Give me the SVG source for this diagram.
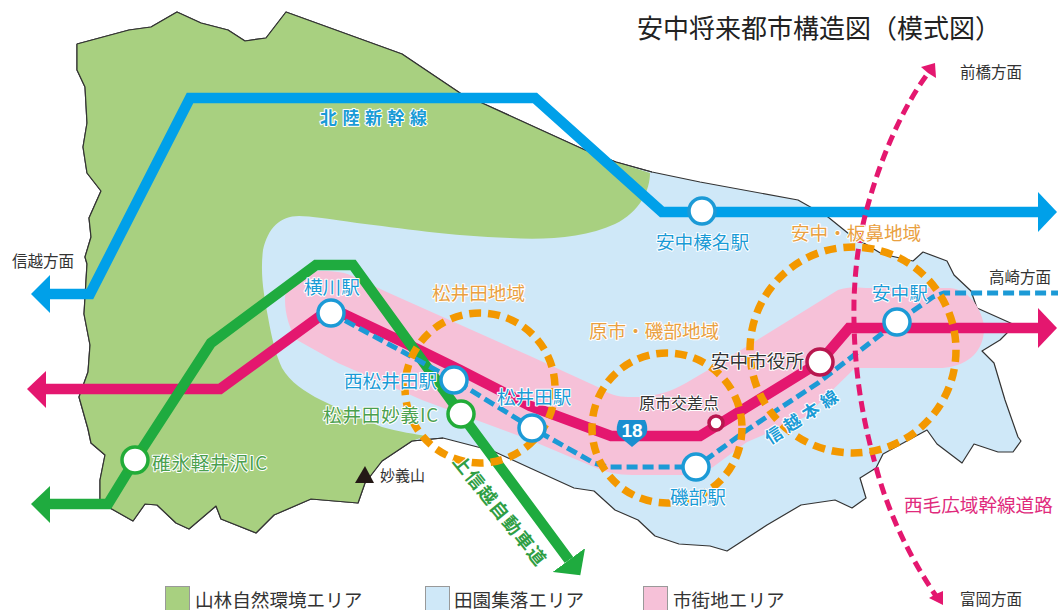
<svg xmlns="http://www.w3.org/2000/svg" width="1058" height="610" viewBox="0 0 1058 610">
<style>
text{font-family:"Noto Sans CJK JP","Noto Sans",sans-serif;font-size:18.6px;paint-order:stroke;stroke:#fff;stroke-width:2px;stroke-linejoin:round}
.k{fill:#333}.s{font-size:15.5px;fill:#333;stroke:none}.b{fill:#1a9bd6}.o{fill:#e9a040}.g{fill:#4aa04e;letter-spacing:.8px}.p{fill:#e02a7c;stroke:none}
.bb{font-weight:700;font-size:17px;fill:#1a9bd6}.gb{font-weight:700;font-size:18px;fill:#2f9e44}
.road{fill:none;stroke-width:10.5;stroke-linejoin:miter}
.st{fill:#fff;stroke-width:3.5}.sb{stroke:#1c9ad6}.sg{stroke:#22ac38}.sr{stroke:#b8174f}
.lg{stroke:#999;stroke-width:1}
.reg{fill:none;stroke:#f39800;stroke-width:7.5;stroke-dasharray:12 7}
</style>
<defs>
<marker id="hb" markerUnits="userSpaceOnUse" markerWidth="20" markerHeight="40" refX="0" refY="20" orient="auto"><path d="M0,0L19,20L0,40z" fill="#00a0e9"/></marker>
<marker id="hp" markerUnits="userSpaceOnUse" markerWidth="20" markerHeight="40" refX="0" refY="20" orient="auto"><path d="M0,0L19,20L0,40z" fill="#e4176f"/></marker>
<marker id="hg" markerUnits="userSpaceOnUse" markerWidth="20" markerHeight="40" refX="0" refY="20" orient="auto"><path d="M0,0L19,20L0,40z" fill="#1fab3f"/></marker>
</defs>
<rect width="1058" height="610" fill="#fff"/>
<g id="areas">
<path id="city-boundary" fill="#cfe8f8" stroke="#333" stroke-width="1.2" stroke-linejoin="round" d="M77,44L129,30L151,27L177,12L201,23L228,30L245,41L266,38L286,12L402,54L460,93L482,103L585,150L616,162L652,172L700,182L798,200L828,217L849,234L882,254L913,261L923,252L947,261L954,275L971,291L977,308L1015,325L1000,340L982,351L994,363L1005,400L1018,437L1021,441L1013,452L998,452L974,444L962,463L937,444L927,430L883,454L876,468L860,478L866,498L852,508L835,500L801,505L767,525L727,551L710,546L679,544L655,536L638,520L615,510L594,491L574,488L530,468L493,451L443,438L412,441L382,461L365,483L358,503L311,499L274,515L256,533L221,519L216,506L189,529L176,523L157,505L145,504L133,521L110,508L100,500L100,480L105,455L91,443L88,429L79,397L88,372L90,345L84,314L87,264L85,257L91,237L89,218L101,191L87,173L83,147L87,123L85,87L77,70z"/>
<path id="forest" fill="#a8d080" d="M77,44L129,30L151,27L177,12L201,23L228,30L245,41L266,38L286,12L402,54L460,93L482,103L585,150L616,162L650,173C650,190 640,212 615,224C585,238 545,240 510,238C450,236 400,228 357,223C330,219 310,216 299,216C280,216 268,228 263,250C260,275 264,295 268,317C272,340 276,355 282,368C290,382 305,392 321,400C345,412 365,420 382,427C400,432 415,434 426,436L412,441L382,461L365,483L358,503L311,499L274,515L256,533L221,519L216,506L189,529L176,523L157,505L145,504L133,521L110,508L100,500L100,480L105,455L91,443L88,429L79,397L88,372L90,345L84,314L87,264L85,257L91,237L89,218L101,191L87,173L83,147L87,123L85,87L77,70z"/>
<path fill="none" stroke="#333" stroke-width="1.2" stroke-linejoin="round" d="M77,44L129,30L151,27L177,12L201,23L228,30L245,41L266,38L286,12L402,54L460,93L482,103L585,150L616,162L652,172M443,438L412,441L382,461L365,483L358,503L311,499L274,515L256,533L221,519L216,506L189,529L176,523L157,505L145,504L133,521L110,508L100,500L100,480L105,455L91,443L88,429L79,397L88,372L90,345L84,314L87,264L85,257L91,237L89,218L101,191L87,173L83,147L87,123L85,87L77,70L77,44"/>
<path id="urban" fill="#f6c1d8" d="M285,300C285,282 296,272 315,271C330,271 342,271 352,276L389,293L530,356L600,388C608,394 618,397 628,397L642,397C660,395 672,391 686,383L720,363L838,290C850,286 860,288 869,288L950,288C968,290 980,305 984,325C985,345 975,362 950,367C945,368 940,368 937,368L855,368L805,417L747,442L713,467C705,472 697,475 689,475L632,475C618,475 605,472 594,467L530,440L422,400L338,363L297,340C290,330 285,315 285,300z"/>
</g>
<g id="connectors">
<path class="road" stroke="#00a0e9" marker-end="url(#hb)" d="M50,294L90,294L190,98L535,98L662,212L1038,212"/>
<path class="road" stroke="#e4176f" marker-end="url(#hp)" d="M46,389L220,389L331,308L405,343L460,370L530,406L611,436L700,436L820,362L849,328L1038,328"/>
<path class="road" stroke="#1fab3f" marker-end="url(#hg)" d="M50,504L108,504L135,460L211,343L316,265L353,265L461,414L569,560"/>
<path fill="#00a0e9" d="M31,294L50,275L50,313z"/><path fill="#e4176f" d="M27,389L46,371L46,408z"/><path fill="#1fab3f" d="M31,504L50,486L50,523z"/>
<path fill="none" stroke="#1c9ad6" stroke-width="5" stroke-dasharray="11 5" d="M331,313L405,353L454,380L532,428L594,463L608,467L696,467L747,430L818,383L897,322L933,297L944,293L1058,293"/>
<path fill="none" stroke="#e4176f" stroke-width="5" stroke-dasharray="11 6" d="M926,76C905,105 880,155 864,220C857,250 855,275 854,300C853,360 860,410 876,467C890,520 915,565 936,596"/>
<path fill="#e4176f" d="M935,63L936,78L928,73L921,67z"/>
<path fill="#e4176f" d="M943,605L929,598L936,594L943,591z"/>
</g>
<g id="regions">
<circle class="reg" cx="480" cy="388" r="75"/>
<circle class="reg" cx="667" cy="428" r="75"/>
<circle class="reg" cx="853" cy="350" r="103"/>
</g>
<g id="n-annaka-haruna"><circle class="st sb" cx="702" cy="211" r="13"/><text class="b" x="656" y="249">安中榛名駅</text></g>
<g id="n-yokokawa"><circle class="st sb" cx="331" cy="313" r="13"/><text class="b" x="304" y="294">横川駅</text></g>
<g id="n-nishi-matsuida"><circle class="st sb" cx="454" cy="380" r="13"/><text class="b" x="344" y="388">西松井田駅</text></g>
<g id="n-matsuida"><circle class="st sb" cx="532" cy="428" r="13"/><text class="b" x="497" y="404">松井田駅</text></g>
<g id="n-isobe"><circle class="st sb" cx="696" cy="467" r="13"/><text class="b" x="670" y="504">磯部駅</text></g>
<g id="n-annaka"><circle class="st sb" cx="897" cy="322" r="13"/><text class="b" x="872" y="300">安中駅</text></g>
<g id="n-usui"><circle class="st sg" cx="135" cy="460" r="13"/><text class="g" x="152" y="470">碓氷軽井沢IC</text></g>
<g id="n-myogi"><circle class="st sg" cx="461" cy="414" r="13"/><text class="g" x="323" y="422">松井田妙義IC</text></g>
<g id="n-cityhall"><circle class="st sr" cx="820" cy="362" r="13"/><text class="k" x="711" y="368">安中市役所</text></g>
<g id="n-haraichi"><circle class="st sr" cx="716" cy="423" r="7"/><text class="k" style="font-size:16px" x="639" y="409">原市交差点</text></g>
<g id="n-route18"><path fill="#1a8fd0" d="M619,420L645,420C648,426 648,432 645,436L632,447L619,436C616,432 616,426 619,420z"/><text x="632" y="437" text-anchor="middle" style="font-size:19px;font-weight:700;fill:#fff;stroke:none;font-family:'Liberation Sans',sans-serif">18</text></g>
<g id="n-myogisan"><path fill="#231815" d="M355,483L374,483L365,466z"/><text class="k" style="stroke:none;font-size:15px" x="380" y="481">妙義山</text></g>
<g id="labels">
<text style="font-size:26px;fill:#222;stroke:none" x="637" y="38">安中将来都市構造図（模式図）</text>
<text class="s" x="12" y="267">信越方面</text>
<text class="s" x="960" y="78">前橋方面</text>
<text class="s" x="989" y="283">高崎方面</text>
<text class="s" x="960" y="605">富岡方面</text>
<text class="bb" x="320" y="124" style="letter-spacing:5.5px">北陸新幹線</text>
<text class="o" x="432" y="300">松井田地域</text>
<text class="o" x="589" y="338">原市・磯部地域</text>
<text class="o" x="791" y="240">安中・板鼻地域</text>
<text class="p" x="904" y="512">西毛広域幹線道路</text>
<text class="bb" transform="translate(807,421) rotate(-33)" text-anchor="middle" style="letter-spacing:5px">信越本線</text>
<text class="gb" transform="translate(495,515) rotate(51)" text-anchor="middle" style="letter-spacing:1.600px">上信越自動車道</text>
</g>
<g id="legend">
<rect class="lg" x="165.500" y="586.500" width="24" height="24" fill="#a8d080"/><text class="k" x="195" y="607" style="stroke:none">山林自然環境エリア</text>
<rect class="lg" x="425.500" y="586.500" width="24" height="24" fill="#cfe8f8"/><text class="k" x="454" y="607" style="stroke:none">田園集落エリア</text>
<rect class="lg" x="643.500" y="586.500" width="24" height="24" fill="#f6c1d8"/><text class="k" x="673" y="607" style="stroke:none">市街地エリア</text>
</g>
</svg>
